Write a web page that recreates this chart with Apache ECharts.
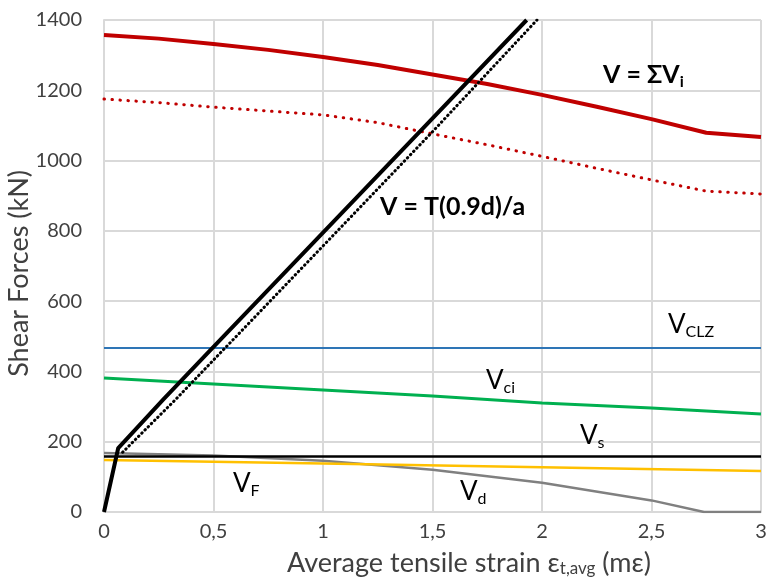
<!DOCTYPE html>
<html>
<head>
<meta charset="utf-8">
<script src="https://cdn.jsdelivr.net/npm/echarts@6/dist/echarts.min.js"></script>
<style>
  html, body { margin: 0; padding: 0; background: #fff; }
  #chart { width: 768px; height: 588px; }
</style>
</head>
<body>
<div id="chart"></div>
<script>
  // strain values (mε) and forces (kN)
  var sumX = [0, 0.25, 0.5, 0.75, 1, 1.25, 1.5, 1.75, 2, 2.25, 2.5, 2.75, 3];
  var sumV = [1357, 1347, 1332, 1315, 1295, 1272, 1245, 1218, 1187, 1153, 1118, 1079, 1067];
  var sumDotV = [1175, 1165, 1152, 1141, 1130, 1108, 1076, 1045, 1012, 978, 945, 913, 905];

  var tX = [0, 0.065, 0.27, 0.5, 1, 1.5, 1.93];
  var tV = [0, 182, 320, 470, 795, 1120, 1400];
  var tDotX = [0.085, 0.33, 1, 1.5, 1.977];
  var tDotV = [170, 322, 757, 1082, 1400];

  var ciX = [0, 0.5, 1, 1.5, 2, 2.5, 3];
  var ciV = [381, 364, 347, 330, 310, 296, 279];

  var dX = [0, 0.5, 1, 1.5, 2, 2.5, 2.74, 3];
  var dV = [168, 161, 146, 120, 83, 33, 0, 0];

  var fX = [0, 1, 2, 3];
  var fV = [148, 138, 127, 117];

  var sX = [0, 3];
  var sV = [158, 158];

  var clzX = [0, 3];
  var clzV = [467, 467];

  function pairs(xs, ys) {
    return xs.map(function (x, i) { return [x, ys[i]]; });
  }

  function line(name, xs, ys, color, width, type) {
    return {
      type: 'line',
      name: name,
      data: pairs(xs, ys),
      showSymbol: false,
      silent: true,
      lineStyle: {color: color, width: width, type: type || 'solid', cap: type ? 'round' : 'butt'},
      z: 3
    };
  }

  var font = 'Lato, "Open Sans", sans-serif';
  var textColor = '#404040';

  // label with subscript
  function label(x, y, main, sub, color, size, bold, subSize) {
    return {
      type: 'text',
      left: x,
      top: y,
      z: 10,
      style: {
        text: '{v|' + main + '}' + (sub ? '{s|' + sub + '}' : ''),
        rich: {
          v: {fontSize: size, fontFamily: font, fontWeight: bold ? 'bold' : 'normal', color: color, lineHeight: 30, verticalAlign: 'middle'},
          s: {fontSize: subSize || Math.round(size * 0.62), fontFamily: font, fontWeight: bold ? 'bold' : 'normal', color: color, lineHeight: 14, verticalAlign: 'bottom'}
        }
      }
    };
  }

  var chart = echarts.init(document.getElementById('chart'));
  chart.setOption({
    animation: false,
    backgroundColor: '#fff',
    grid: {left: 104, right: 7, top: 20, bottom: 76, outerBoundsMode: 'none'},
    xAxis: {
      type: 'value',
      min: 0,
      max: 3,
      interval: 0.5,
      axisLine: {show: true, lineStyle: {color: '#d9d9d9', width: 2}},
      axisTick: {show: false},
      axisLabel: {
        color: textColor, fontSize: 20, fontFamily: font, margin: 10,
        formatter: function (v) { return String(v).replace('.', ','); }
      },
      splitLine: {show: true, lineStyle: {color: '#d9d9d9', width: 2}}
    },
    yAxis: {
      type: 'value',
      min: 0,
      max: 1400,
      interval: 200,
      axisLine: {show: true, lineStyle: {color: '#d9d9d9', width: 2}},
      axisTick: {show: false},
      axisLabel: {
        color: textColor, fontSize: 20, fontFamily: font, margin: 22,
        formatter: function (v) { return String(v); }
      },
      splitLine: {lineStyle: {color: '#d9d9d9', width: 2}}
    },
    series: [
      line('Vd', dX, dV, '#808080', 2.5),
      line('VF', fX, fV, '#ffc000', 2.5),
      line('Vs', sX, sV, '#000000', 2.5),
      line('Vci', ciX, ciV, '#00b050', 3),
      line('VCLZ', clzX, clzV, '#2e75b6', 2),
      line('V dotted', sumX, sumDotV, '#c00000', 3, [0.5, 7.5]),
      line('V', sumX, sumV, '#c00000', 4),
      line('T dotted', tDotX, tDotV, '#000000', 3, [0.5, 4]),
      line('T', tX, tV, '#000000', 4)
    ],
    graphic: [
      {
        type: 'text',
        left: 6,
        top: 170,
        rotation: Math.PI / 2,
        style: {text: 'Shear Forces (kN)', fontSize: 27, fontFamily: font, fill: textColor}
      },
      {
        type: 'text',
        left: 287,
        top: 550,
        style: {
          text: 'Average tensile strain ε{s|t,avg} (mε)',
          fontSize: 27, fontFamily: font, fill: textColor,
          rich: {s: {fontSize: 17, fontFamily: font, fill: textColor, verticalAlign: 'bottom', lineHeight: 14}}
        }
      },
      label(603, 62, 'V = ΣV', 'i', '#c00000', 25, true, 16),
      label(380, 194, 'V = T(0.9d)/a', '', '#000000', 25, true),
      label(668, 312, 'V', 'CLZ', '#2e75b6', 26),
      label(486, 368, 'V', 'ci', '#00b050', 26),
      label(580, 423, 'V', 's', '#000000', 26),
      label(233, 471, 'V', 'F', '#ffc000', 26),
      label(460, 479, 'V', 'd', '#808080', 26)
    ]
  });
</script>
</body>
</html>
